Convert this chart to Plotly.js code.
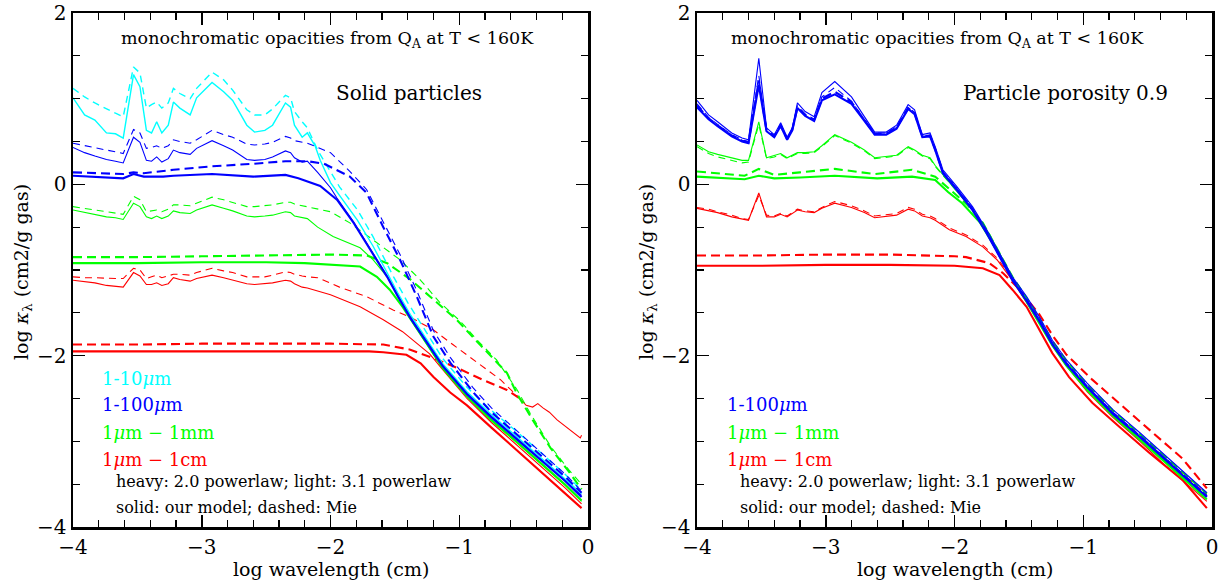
<!DOCTYPE html>
<html><head><meta charset="utf-8">
<script src="https://cdn.plot.ly/plotly-3.0.1.min.js"></script>
<style>body{margin:0;background:#fff}#chart{width:1221px;height:581px}</style>
</head><body><div id="chart"></div>
<script>
// ---------------- LEFT PANEL (solid particles) ----------------
const gridL = [-4.0,-3.91,-3.83,-3.74,-3.67,-3.61,-3.53,-3.48,-3.43,-3.39,-3.35,-3.31,-3.26,-3.22,-3.17,-3.09,-3.04,-2.92,-2.83,-2.76,-2.65,-2.59,-2.51,-2.45,-2.35,-2.31,-2.28,-2.22,-2.18];

const L_cyanSolid = [1.01,0.81,0.75,0.60,0.59,0.54,1.28,1.14,0.63,0.60,0.73,0.60,0.69,0.96,0.89,0.81,1.01,1.19,1.08,0.98,0.69,0.61,0.63,0.69,0.95,0.90,0.69,0.55,0.60];
const L_cyanSolidTailX = [-2.12,-2.08,-2.0,-1.93,-1.79,-1.67,-1.56,-1.48,-1.38,-1.25,-1.13,-0.94,-0.75,-0.55,-0.35,-0.18,-0.05];
const L_cyanSolidTailY = [0.45,0.28,0.02,-0.13,-0.42,-0.72,-1.03,-1.26,-1.52,-1.82,-2.09,-2.42,-2.69,-2.95,-3.21,-3.43,-3.61];

const L_cyanDash = [1.12,1.02,0.95,0.88,0.83,0.79,1.37,1.30,0.89,0.93,0.96,0.89,0.95,1.12,1.06,1.00,1.12,1.31,1.22,1.10,0.87,0.81,0.81,0.88,1.04,1.01,0.85,0.73,0.66];
const L_cyanDashTailX = [-2.10,-2.03,-1.93,-1.79,-1.67,-1.51,-1.40,-1.25,-1.13,-0.94,-0.75,-0.55,-0.35,-0.18,-0.05];
const L_cyanDashTailY = [0.40,0.22,-0.03,-0.30,-0.61,-1.08,-1.38,-1.74,-2.03,-2.37,-2.64,-2.89,-3.15,-3.38,-3.57];

const L_blueThinSolid = [0.43,0.37,0.33,0.29,0.27,0.25,0.55,0.49,0.28,0.27,0.32,0.26,0.30,0.40,0.37,0.35,0.42,0.51,0.45,0.40,0.29,0.28,0.29,0.32,0.39,0.37,0.31,0.26,0.27];
const L_blueThinSolidTailX = [-2.10,-2.0,-1.95,-1.82,-1.69,-1.56,-1.48,-1.38,-1.25,-1.13,-0.94,-0.75,-0.55,-0.35,-0.18,-0.05];
const L_blueThinSolidTailY = [0.14,-0.04,-0.16,-0.44,-0.76,-1.07,-1.29,-1.55,-1.84,-2.11,-2.44,-2.71,-2.97,-3.23,-3.45,-3.63];

const L_blueThinDash = [0.48,0.45,0.43,0.40,0.38,0.36,0.64,0.60,0.42,0.43,0.45,0.42,0.45,0.52,0.50,0.48,0.52,0.63,0.58,0.55,0.47,0.46,0.47,0.49,0.56,0.54,0.51,0.49,0.48];
const L_blueThinDashTailX = [-2.0,-1.85,-1.72,-1.59,-1.46,-1.33,-1.20,-1.07,-0.89,-0.75,-0.55,-0.35,-0.18,-0.05];
const L_blueThinDashTailY = [0.37,0.15,-0.06,-0.44,-0.82,-1.24,-1.71,-2.02,-2.38,-2.61,-2.88,-3.15,-3.38,-3.58];

const L_blueThickSolidX = [-4.0,-3.61,-3.53,-3.45,-3.3,-3.22,-2.92,-2.6,-2.35,-2.25,-2.08,-1.95,-1.82,-1.69,-1.56,-1.48,-1.38,-1.25,-1.13,-0.94,-0.75,-0.55,-0.35,-0.18,-0.05];
const L_blueThickSolidY = [0.10,0.07,0.12,0.09,0.09,0.10,0.12,0.09,0.11,0.07,-0.02,-0.18,-0.45,-0.77,-1.08,-1.30,-1.56,-1.85,-2.12,-2.45,-2.72,-2.98,-3.24,-3.46,-3.65];

const L_blueThickDashX = [-4.0,-3.61,-3.53,-3.45,-3.22,-2.92,-2.6,-2.35,-2.18,-2.05,-1.85,-1.72,-1.59,-1.46,-1.33,-1.20,-1.07,-0.89,-0.75,-0.55,-0.35,-0.18,-0.05];
const L_blueThickDashY = [0.14,0.12,0.14,0.13,0.17,0.21,0.24,0.27,0.27,0.24,0.09,-0.10,-0.50,-0.88,-1.31,-1.78,-2.08,-2.43,-2.66,-2.92,-3.19,-3.41,-3.60];

const L_greenThinSolid = [-0.30,-0.33,-0.35,-0.38,-0.39,-0.41,-0.22,-0.26,-0.38,-0.40,-0.37,-0.40,-0.37,-0.31,-0.33,-0.34,-0.30,-0.24,-0.28,-0.31,-0.37,-0.38,-0.37,-0.36,-0.32,-0.33,-0.37,-0.39,-0.40];
const L_greenThinSolidTailX = [-2.10,-1.98,-1.77,-1.67,-1.56,-1.46,-1.38,-1.25,-1.13,-0.94,-0.75,-0.55,-0.35,-0.18,-0.05];
const L_greenThinSolidTailY = [-0.50,-0.61,-0.74,-0.88,-1.08,-1.35,-1.57,-1.87,-2.15,-2.48,-2.76,-3.02,-3.29,-3.51,-3.70];

const L_greenThinDash = [-0.26,-0.28,-0.30,-0.32,-0.34,-0.35,-0.14,-0.18,-0.32,-0.31,-0.30,-0.32,-0.29,-0.24,-0.24,-0.25,-0.22,-0.15,-0.18,-0.21,-0.26,-0.26,-0.25,-0.24,-0.21,-0.21,-0.23,-0.25,-0.26];
const L_greenThinDashTailX = [-2.0,-1.85,-1.72,-1.46,-1.30,-1.15,-0.99,-0.86,-0.71,-0.55,-0.45,-0.29,-0.15,-0.05];
const L_greenThinDashTailY = [-0.32,-0.45,-0.59,-0.88,-1.12,-1.38,-1.60,-1.82,-2.05,-2.40,-2.67,-3.06,-3.33,-3.50];

const L_greenThickSolidX = [-4.0,-3.5,-3.0,-2.5,-2.2,-1.95,-1.77,-1.64,-1.54,-1.44,-1.38,-1.25,-1.13,-0.94,-0.75,-0.55,-0.35,-0.18,-0.05];
const L_greenThickSolidY = [-0.92,-0.92,-0.91,-0.91,-0.92,-0.94,-0.96,-1.08,-1.23,-1.43,-1.57,-1.86,-2.14,-2.47,-2.75,-3.01,-3.28,-3.50,-3.69];

const L_greenThickDashX = [-4.0,-3.5,-3.0,-2.5,-2.0,-1.72,-1.56,-1.38,-1.20,-1.02,-0.84,-0.71,-0.63,-0.55,-0.43,-0.29,-0.15,-0.05];
const L_greenThickDashY = [-0.85,-0.85,-0.84,-0.83,-0.82,-0.83,-0.92,-1.11,-1.35,-1.58,-1.87,-2.08,-2.20,-2.45,-2.75,-3.08,-3.35,-3.56];

const L_redThinSolid = [-1.12,-1.14,-1.15,-1.18,-1.19,-1.20,-1.03,-1.07,-1.17,-1.17,-1.15,-1.18,-1.16,-1.09,-1.11,-1.13,-1.10,-1.06,-1.09,-1.12,-1.16,-1.17,-1.16,-1.15,-1.12,-1.13,-1.16,-1.20,-1.21];
const L_redThinSolidTailX = [-2.0,-1.77,-1.59,-1.44,-1.30,-1.23,-1.13,-0.94,-0.75,-0.55,-0.35,-0.18,-0.05];
const L_redThinSolidTailY = [-1.29,-1.43,-1.58,-1.72,-1.90,-1.98,-2.16,-2.50,-2.78,-3.05,-3.32,-3.54,-3.73];

const L_redThinDash = [-1.08,-1.09,-1.09,-1.10,-1.10,-1.10,-0.98,-1.00,-1.10,-1.08,-1.06,-1.09,-1.07,-1.05,-1.05,-1.06,-1.03,-0.98,-1.01,-1.03,-1.08,-1.08,-1.08,-1.06,-1.02,-1.03,-1.05,-1.07,-1.08];
const L_redThinDashTailX = [-2.10,-1.93,-1.72,-1.51,-1.38,-1.20,-1.05,-0.86,-0.68,-0.53];
const L_redThinDashTailY = [-1.09,-1.20,-1.31,-1.47,-1.55,-1.70,-1.87,-2.08,-2.28,-2.50];
const L_redNoisyX = [-0.53,-0.48,-0.43,-0.39,-0.35,-0.30,-0.24,-0.18,-0.14,-0.10,-0.06,-0.05];
const L_redNoisyY = [-2.50,-2.58,-2.60,-2.56,-2.61,-2.66,-2.75,-2.82,-2.87,-2.92,-2.96,-2.93];

const L_redThickDashX = [-4.0,-3.5,-3.0,-2.5,-2.0,-1.59,-1.38,-1.20,-1.02,-0.82,-0.63,-0.53];
const L_redThickDashY = [-1.87,-1.87,-1.86,-1.86,-1.86,-1.87,-1.93,-2.03,-2.14,-2.28,-2.40,-2.50];

const L_redThickSolidX = [-4.0,-3.5,-3.0,-2.5,-2.0,-1.7,-1.59,-1.41,-1.30,-1.20,-1.07,-0.94,-0.75,-0.55,-0.35,-0.18,-0.05];
const L_redThickSolidY = [-1.95,-1.95,-1.95,-1.95,-1.95,-1.95,-1.96,-1.99,-2.09,-2.25,-2.43,-2.58,-2.84,-3.11,-3.38,-3.60,-3.78];

// ---------------- RIGHT PANEL (porosity 0.9) ----------------
const gridR = [-4.0,-3.91,-3.84,-3.73,-3.65,-3.60,-3.52,-3.46,-3.40,-3.35,-3.30,-3.26,-3.22,-3.16,-3.09,-3.03,-2.93,-2.80,-2.70,-2.62,-2.53,-2.45,-2.36,-2.31,-2.25,-2.19,-2.15];
const R_blueTailX = [-2.09,-1.98,-1.86,-1.75,-1.65,-1.55,-1.44,-1.34,-1.24,-1.13,-0.97,-0.77,-0.56,-0.35,-0.18,-0.04];

const R_blueThinSolid = [0.98,0.81,0.73,0.60,0.54,0.52,1.47,0.66,0.58,0.72,0.55,0.66,0.95,0.85,0.79,1.07,1.20,1.02,0.79,0.61,0.61,0.69,0.93,0.87,0.58,0.60,0.44];
const R_blueThinSolidTail = [0.17,-0.03,-0.26,-0.53,-0.80,-1.08,-1.31,-1.55,-1.82,-2.05,-2.32,-2.63,-2.90,-3.18,-3.41,-3.60];
const R_blueThinDash = [0.94,0.78,0.70,0.58,0.52,0.50,1.27,0.64,0.57,0.70,0.54,0.65,0.92,0.82,0.76,1.02,1.13,0.97,0.76,0.60,0.60,0.67,0.90,0.84,0.56,0.58,0.42];
const R_blueThinDashTail = [0.15,-0.05,-0.28,-0.55,-0.82,-1.10,-1.34,-1.58,-1.85,-2.08,-2.35,-2.66,-2.93,-3.21,-3.44,-3.63];
const R_blueThickSolid = [0.90,0.76,0.68,0.56,0.50,0.48,1.16,0.62,0.55,0.68,0.52,0.63,0.89,0.80,0.74,0.98,1.05,0.94,0.74,0.58,0.58,0.65,0.88,0.82,0.55,0.56,0.40];
const R_blueThickSolidTail = [0.13,-0.07,-0.30,-0.57,-0.84,-1.12,-1.36,-1.60,-1.87,-2.10,-2.37,-2.68,-2.95,-3.23,-3.46,-3.65];
const R_blueThickDash = [0.92,0.77,0.69,0.57,0.51,0.49,1.21,0.63,0.56,0.69,0.53,0.64,0.90,0.81,0.75,1.00,1.08,0.96,0.75,0.59,0.59,0.66,0.89,0.83,0.56,0.57,0.41];
const R_blueThickDashTail = [0.14,-0.06,-0.29,-0.56,-0.83,-1.11,-1.35,-1.59,-1.86,-2.09,-2.36,-2.67,-2.94,-3.22,-3.45,-3.64];

const R_greenTailX = [-2.10,-1.94,-1.86,-1.75,-1.65,-1.55,-1.44,-1.34,-1.24,-1.13,-0.97,-0.77,-0.56,-0.35,-0.18,-0.04];
const R_greenThinSolid = [0.46,0.38,0.35,0.31,0.28,0.28,0.73,0.31,0.34,0.36,0.31,0.34,0.37,0.37,0.38,0.45,0.58,0.49,0.40,0.31,0.33,0.34,0.44,0.40,0.34,0.31,0.22];
const R_greenThinSolidTail = [0.13,-0.15,-0.30,-0.53,-0.82,-1.10,-1.36,-1.60,-1.86,-2.10,-2.38,-2.68,-2.96,-3.25,-3.47,-3.65];
const R_greenThinDash = [0.44,0.36,0.32,0.28,0.25,0.26,0.70,0.30,0.32,0.35,0.30,0.33,0.36,0.36,0.37,0.44,0.57,0.48,0.39,0.30,0.32,0.33,0.43,0.39,0.33,0.30,0.21];
const R_greenThinDashTail = [0.12,-0.15,-0.29,-0.52,-0.81,-1.09,-1.35,-1.59,-1.85,-2.09,-2.37,-2.67,-2.95,-3.24,-3.46,-3.64];

const R_greenThickSolidX = [-4.0,-3.63,-3.52,-3.40,-3.2,-2.93,-2.6,-2.33,-2.15,-2.05,-1.94,-1.80,-1.65,-1.55,-1.44,-1.34,-1.24,-1.13,-0.97,-0.77,-0.56,-0.35,-0.18,-0.04];
const R_greenThickSolidY = [0.09,0.06,0.10,0.07,0.08,0.10,0.07,0.09,0.05,-0.09,-0.22,-0.45,-0.82,-1.10,-1.37,-1.62,-1.88,-2.12,-2.40,-2.70,-2.98,-3.27,-3.49,-3.68];
const R_greenThickDashX = [-4.0,-3.63,-3.52,-3.40,-3.2,-2.93,-2.62,-2.33,-2.15,-2.02,-1.90,-1.78,-1.65,-1.55,-1.44,-1.34,-1.24,-1.13,-0.97,-0.77,-0.56,-0.35,-0.18,-0.04];
const R_greenThickDashY = [0.15,0.10,0.18,0.11,0.14,0.18,0.12,0.17,0.09,-0.08,-0.24,-0.45,-0.80,-1.08,-1.33,-1.57,-1.83,-2.06,-2.34,-2.64,-2.92,-3.20,-3.42,-3.61];

const R_redThinSolid = [-0.28,-0.31,-0.33,-0.38,-0.41,-0.42,-0.10,-0.38,-0.38,-0.35,-0.38,-0.34,-0.30,-0.32,-0.33,-0.28,-0.22,-0.27,-0.33,-0.39,-0.37,-0.36,-0.29,-0.31,-0.37,-0.39,-0.42];
const R_redThinDash = [-0.27,-0.29,-0.32,-0.36,-0.40,-0.41,-0.13,-0.36,-0.37,-0.34,-0.37,-0.33,-0.29,-0.31,-0.32,-0.27,-0.20,-0.25,-0.31,-0.37,-0.35,-0.34,-0.27,-0.29,-0.35,-0.37,-0.40];
const R_redThinTailX = [-2.04,-1.91,-1.78,-1.67,-1.57,-1.44,-1.34,-1.24,-1.13,-0.97,-0.77,-0.56,-0.35,-0.18,-0.04];
const R_redThinSolidTail = [-0.53,-0.61,-0.73,-0.88,-1.08,-1.38,-1.62,-1.88,-2.12,-2.42,-2.72,-3.00,-3.30,-3.52,-3.70];
const R_redThinDashTail = [-0.51,-0.59,-0.71,-0.86,-1.06,-1.36,-1.59,-1.85,-2.08,-2.37,-2.66,-2.94,-3.23,-3.44,-3.62];

const R_redThickSolidX = [-4.0,-3.5,-3.0,-2.5,-2.0,-1.78,-1.65,-1.55,-1.44,-1.34,-1.24,-1.11,-0.93,-0.72,-0.49,-0.23,-0.04];
const R_redThickSolidY = [-0.95,-0.95,-0.94,-0.94,-0.95,-0.98,-1.06,-1.23,-1.43,-1.70,-1.97,-2.25,-2.55,-2.83,-3.13,-3.45,-3.78];
const R_redThickDashX = [-4.0,-3.5,-3.0,-2.5,-2.0,-1.91,-1.73,-1.62,-1.50,-1.34,-1.24,-1.13,-0.93,-0.72,-0.49,-0.23,-0.04];
const R_redThickDashY = [-0.83,-0.83,-0.82,-0.82,-0.84,-0.85,-0.92,-1.04,-1.22,-1.52,-1.76,-1.99,-2.28,-2.56,-2.86,-3.20,-3.55];

// ---------------- tick positions & texts ----------------
const xMajorTicks = [-4,-3,-2,-1,0];
const yMajorTicks = [-4,-2,0,2];
const panelTitle = 'monochromatic opacities from Q<sub>A</sub> at T &lt; 160K';
const panelLabels = ['Solid particles', 'Particle porosity 0.9'];
const legendLeft = [['1-10<i>μ</i>m','#00ffff'],['1-100<i>μ</i>m','#0000ff'],['1<i>μ</i>m − 1mm','#00ff00'],['1<i>μ</i>m − 1cm','#ff0000']];
const legendRight = [['1-100<i>μ</i>m','#0000ff'],['1<i>μ</i>m − 1mm','#00ff00'],['1<i>μ</i>m − 1cm','#ff0000']];
const noteLines = ['heavy: 2.0 powerlaw; light: 3.1 powerlaw', 'solid: our model; dashed: Mie'];
const xTitle = 'log wavelength (cm)';
const yTitle = 'log <i>κ</i><sub>λ</sub> (cm2/g gas)';

// ---------------- build ----------------
const CY='#00ffff', BL='#0000ff', GR='#00ff00', RD='#ff0000';
const HEAVY=2.1, LIGHT=1.1;
const DASH_L='7px,5px', DASH_H='9px,5px';
const traces=[];
function add(x,y,color,width,dash,right){
  traces.push({x:x,y:y,type:'scatter',mode:'lines',hoverinfo:'skip',
    xaxis:right?'x2':'x', yaxis:right?'y2':'y',
    line:{color:color,width:width,dash:dash||'solid'}});
}
// left
add(L_redThickSolidX,L_redThickSolidY,RD,HEAVY,null,false);
add(L_redThickDashX,L_redThickDashY,RD,HEAVY,DASH_H,false);
add(gridL.concat(L_redThinSolidTailX),L_redThinSolid.concat(L_redThinSolidTailY),RD,LIGHT,null,false);
add(gridL.concat(L_redThinDashTailX),L_redThinDash.concat(L_redThinDashTailY),RD,LIGHT,DASH_L,false);
add(L_redNoisyX,L_redNoisyY,RD,LIGHT,null,false);
add(L_greenThickSolidX,L_greenThickSolidY,GR,HEAVY,null,false);
add(L_greenThickDashX,L_greenThickDashY,GR,HEAVY,DASH_H,false);
add(gridL.concat(L_greenThinSolidTailX),L_greenThinSolid.concat(L_greenThinSolidTailY),GR,LIGHT,null,false);
add(gridL.concat(L_greenThinDashTailX),L_greenThinDash.concat(L_greenThinDashTailY),GR,LIGHT,DASH_L,false);
add(gridL.concat(L_cyanSolidTailX),L_cyanSolid.concat(L_cyanSolidTailY),CY,1.4,null,false);
add(gridL.concat(L_cyanDashTailX),L_cyanDash.concat(L_cyanDashTailY),CY,1.4,DASH_L,false);
add(L_blueThickSolidX,L_blueThickSolidY,BL,HEAVY,null,false);
add(L_blueThickDashX,L_blueThickDashY,BL,HEAVY,DASH_H,false);
add(gridL.concat(L_blueThinSolidTailX),L_blueThinSolid.concat(L_blueThinSolidTailY),BL,LIGHT,null,false);
add(gridL.concat(L_blueThinDashTailX),L_blueThinDash.concat(L_blueThinDashTailY),BL,LIGHT,DASH_L,false);
// right
add(R_redThickSolidX,R_redThickSolidY,RD,HEAVY,null,true);
add(R_redThickDashX,R_redThickDashY,RD,HEAVY,DASH_H,true);
add(gridR.concat(R_redThinTailX),R_redThinSolid.concat(R_redThinSolidTail),RD,LIGHT,null,true);
add(gridR.concat(R_redThinTailX),R_redThinDash.concat(R_redThinDashTail),RD,LIGHT,DASH_L,true);
add(R_greenThickSolidX,R_greenThickSolidY,GR,HEAVY,null,true);
add(R_greenThickDashX,R_greenThickDashY,GR,HEAVY,DASH_H,true);
add(gridR.concat(R_greenTailX),R_greenThinSolid.concat(R_greenThinSolidTail),GR,LIGHT,null,true);
add(gridR.concat(R_greenTailX),R_greenThinDash.concat(R_greenThinDashTail),GR,LIGHT,DASH_L,true);
add(gridR.concat(R_blueTailX),R_blueThickSolid.concat(R_blueThickSolidTail),BL,HEAVY,null,true);
add(gridR.concat(R_blueTailX),R_blueThickDash.concat(R_blueThickDashTail),BL,HEAVY,DASH_H,true);
add(gridR.concat(R_blueTailX),R_blueThinSolid.concat(R_blueThinSolidTail),BL,LIGHT,null,true);
add(gridR.concat(R_blueTailX),R_blueThinDash.concat(R_blueThinDashTail),BL,LIGHT,DASH_L,true);

const W=1221,H=581;
const FONT='DejaVu Serif';
const px=v=>v/W, py=v=>1-v/H;
const YDOM=[py(527),py(13)];
function axX(dom,anchor){return {domain:dom,anchor:anchor,range:[-4,0],tickmode:'array',tickvals:xMajorTicks,ticks:'inside',ticklen:12,tickwidth:1.5,tickcolor:'#000',
  minor:{dtick:0.2,ticks:'inside',ticklen:7,tickwidth:1.2,tickcolor:'#000'},
  mirror:'allticks',showline:true,linewidth:2.5,linecolor:'#000',showgrid:false,zeroline:false,
  tickfont:{family:FONT,size:20,color:'#000'}};}
function axY(anchor){return {domain:YDOM,anchor:anchor,range:[-4,2],tickmode:'array',tickvals:yMajorTicks,ticks:'inside',ticklen:12,tickwidth:1.5,tickcolor:'#000',
  minor:{dtick:0.5,ticks:'inside',ticklen:7,tickwidth:1.2,tickcolor:'#000'},
  mirror:'allticks',showline:true,linewidth:2.5,linecolor:'#000',showgrid:false,zeroline:false,
  tickfont:{family:FONT,size:20,color:'#000'}};}

const ann=[];
function txt(text,x,y,size,color,xanchor,angle){
  ann.push({text:text,xref:'paper',yref:'paper',x:px(x),y:py(y),xanchor:xanchor||'center',yanchor:'middle',
    showarrow:false,textangle:angle||0,font:{family:FONT,size:size,color:color||'#000'}});
}
[[327,409,100,114,22,331,legendLeft],[937,1065,725,738,647,955,legendRight]].forEach((p,i)=>{
  txt(panelTitle,p[0],40,17.5);
  txt(panelLabels[i],p[1],93,20);
  const leg=p[6]; const ys=i===0?[378,405,432,459]:[405,432,459];
  leg.forEach((l,k)=>txt(l[0],p[2],ys[k],18,l[1],'left'));
  txt(noteLines[0],p[3],481,16,'#000','left');
  txt(noteLines[1],p[3],507,16,'#000','left');
  txt(yTitle,p[4],272,19,'#000','center',-90);
  txt(xTitle,p[5],569,19);
});

const layout={width:W,height:H,margin:{l:0,r:0,t:0,b:0},paper_bgcolor:'#fff',plot_bgcolor:'#fff',showlegend:false,
  xaxis:axX([px(73),px(588)],'y'), yaxis:axY('x'),
  xaxis2:axX([px(697),px(1212)],'y2'), yaxis2:axY('x2'),
  annotations:ann};
Plotly.newPlot('chart',traces,layout,{staticPlot:true});
</script></body></html>
